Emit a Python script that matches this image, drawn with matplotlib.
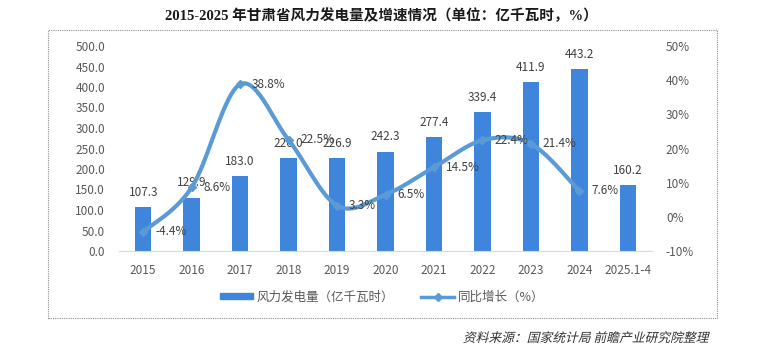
import matplotlib
matplotlib.use('Agg')
import matplotlib.pyplot as plt
import numpy as np
from matplotlib.patches import Rectangle, PathPatch
from matplotlib.lines import Line2D
from matplotlib.textpath import TextPath
from matplotlib.font_manager import FontProperties
from matplotlib.transforms import Affine2D

plt.rcParams['font.family'] = ['Noto Sans CJK SC', 'DejaVu Sans']

years = ['2015', '2016', '2017', '2018', '2019', '2020', '2021', '2022', '2023', '2024', '2025.1-4']
power = [107.3, 129.9, 183.0, 226.0, 226.9, 242.3, 277.4, 339.4, 411.9, 443.2, 160.2]
growth = [-4.4, 8.6, 38.8, 22.5, 3.3, 6.5, 14.5, 22.4, 21.4, 7.6]

title = '2015-2025 年甘肃省风力发电量及增速情况（单位：亿千瓦时，%）'
bar_name = '风力发电量（亿千瓦时）'
line_name = '同比增长（%）'
source = '资料来源：国家统计局 前瞻产业研究院整理'

bar_c = '#3F85DB'
line_c = '#5B9BD5'
txt_c = '#595959'
lab_c = '#404040'

W, H = 760, 350
fig = plt.figure(figsize=(W / 100, H / 100), dpi=100)

# dotted frame
fig.patches.append(Rectangle((48 / W, 1 - 318 / H), (717 - 48) / W, (318 - 30) / H,
                             transform=fig.transFigure, fill=False, ec='#8c8c8c',
                             lw=0.8, ls=(0, (1, 1))))

fig.text(381 / W, 1 - 16 / H, title, ha='center', va='center', fontsize=10.5,
         fontweight='bold', family=['Liberation Serif', 'Noto Sans CJK SC'], color='#1a1a1a')

ax1 = fig.add_axes([119 / W, 1 - 251 / H, (652 - 119) / W, (251 - 46) / H])
ax2 = ax1.twinx()

x = np.arange(len(years))
ax1.bar(x, power, width=0.34, color=bar_c, zorder=2)
ax1.set_xlim(-0.5, len(years) - 0.5)
ax1.set_ylim(0, 500)
ax1.set_yticks(np.arange(0, 501, 50))
ax1.set_yticklabels([f'{v:.1f}' for v in np.arange(0, 501, 50)])
ax1.set_xticks(x)
ax1.set_xticklabels(years)
for s in ['top', 'right', 'left']:
    ax1.spines[s].set_visible(False)
ax1.spines['bottom'].set_color('#d9d9d9')
ax1.tick_params(axis='both', length=0, labelsize=8.5, labelcolor=txt_c)
ax1.tick_params(axis='x', pad=9)
ax1.tick_params(axis='y', pad=10)

for xi, v in zip(x, power):
    ax1.annotate(f'{v:.1f}', (xi, v), xytext=(0, 6), textcoords='offset points',
                 ha='center', va='bottom', fontsize=8.5, color=lab_c, zorder=5)

ax2.set_ylim(-10, 50)
ax2.set_yticks(np.arange(-10, 51, 10))
ax2.set_yticklabels([f'{v}%' for v in range(-10, 51, 10)])
for s in ['top', 'right', 'left', 'bottom']:
    ax2.spines[s].set_visible(False)
ax2.tick_params(axis='y', length=0, labelsize=8.5, labelcolor=txt_c, pad=10)

# smoothed line (Excel-like bezier) computed in display space
fig.canvas.draw()
gx = x[:len(growth)]
pts = ax2.transData.transform(np.column_stack([gx, growth]))
n = len(pts)
curve = []
t = np.linspace(0, 1, 30)[:, None]
for i in range(n - 1):
    p0 = pts[max(i - 1, 0)]
    p1 = pts[i]
    p2 = pts[i + 1]
    p3 = pts[min(i + 2, n - 1)]
    c1 = p1 + (p2 - p0) / 6
    c2 = p2 - (p3 - p1) / 6
    seg = ((1 - t) ** 3) * p1 + 3 * ((1 - t) ** 2) * t * c1 + 3 * (1 - t) * t ** 2 * c2 + t ** 3 * p2
    curve.append(seg)
curve = np.vstack(curve)
curve_d = ax2.transData.inverted().transform(curve)
ax2.plot(curve_d[:, 0], curve_d[:, 1], color=line_c, lw=3, zorder=3, solid_capstyle='round')
ax2.plot(gx, growth, ls='none', marker='D', ms=4, color=line_c, zorder=4)

for xi, v in zip(gx, growth):
    ax2.annotate(f'{v:.1f}%', (xi, v), xytext=(8.5, 0), textcoords='offset points',
                 ha='left', va='center', fontsize=8.5, color=lab_c, zorder=5)

handles = [Rectangle((0, 0), 1, 1, color=bar_c),
           Line2D([], [], color=line_c, lw=2.5, marker='D', ms=4)]
fig.legend(handles, [bar_name, line_name], loc='center', bbox_to_anchor=(382 / W, 1 - 297 / H),
           ncol=2, frameon=False, fontsize=9, labelcolor=txt_c, handlelength=2.6,
           handleheight=0.45, handletextpad=0.3, columnspacing=2.2)

# italic-looking source line
fp = FontProperties(family='Noto Sans CJK SC')
tp = TextPath((0, 0), source, prop=fp, size=9.2)
ext = tp.get_extents()
sc = 100 / 72
tr = Affine2D().skew_deg(14, 0).scale(sc).translate(710 - ext.x1 * sc - 2, H - 342)
fig.patches.append(PathPatch(tp, transform=tr, fc='#333333', ec='none'))

fig.savefig('out.png', dpi=100)
